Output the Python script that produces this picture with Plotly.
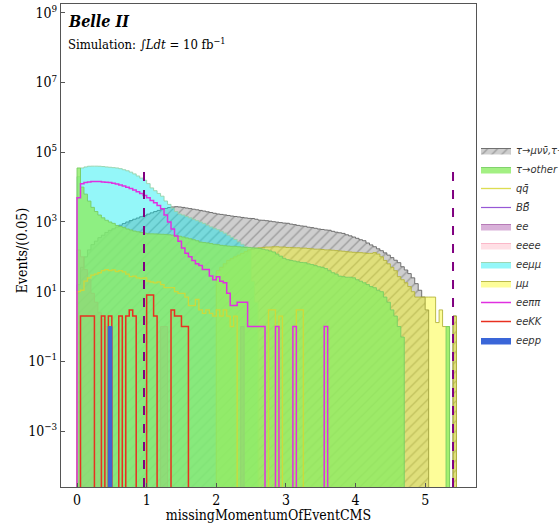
import numpy as np
import plotly.graph_objects as go

# ---------------- data (events per 0.05 bin) ----------------
bin_width = 0.05
n_bins = 110
edges = np.round(np.arange(n_bins + 1) * bin_width, 3)

tau_munu = [16, 50, 100, 158, 224, 282, 355, 417, 501, 575,
            640, 720, 810, 900, 1000, 1100, 1200, 1300, 1420, 1540,
            1680, 1830, 1990, 2150, 2300, 2450, 2600, 2700, 2750, 2700,
            2620, 2520, 2420, 2330, 2240, 2150, 2060, 1960, 1870, 1780,
            1700, 1650, 1600, 1540, 1480, 1440, 1400, 1350, 1310, 1270,
            1260, 1200, 1130, 1120, 1090, 1060, 1020, 990, 960, 930,
            920, 870, 840, 800, 770, 755, 710, 690, 660, 630,
            610, 590, 580, 540, 510, 490, 470, 430, 400, 370,
            340, 310, 290, 250, 220, 195, 170, 150, 130, 112,
            95, 80, 68, 52, 42, 33, 25, 17, 11, 7,
            3, 0, 0, 0, 0, 0, 0, 0, 2, 0]

tau_other = [35500, 10000, 6300, 3980, 2630, 2000, 1585, 1318, 1122, 1000,
             912, 794, 741, 692, 631, 589, 550, 525, 501, 479,
             460, 458, 455, 450, 445, 440, 430, 420, 405, 390,
             370, 350, 330, 310, 290, 265, 257, 251, 240, 229,
             224, 214, 209, 204, 200, 200, 195, 191, 186, 186,
             182, 178, 174, 166, 158, 148, 138, 120, 105, 91,
             83, 79, 76, 72, 69, 68, 63, 60, 56, 52,
             50, 46, 40, 35, 32, 28, 27, 26, 26, 25,
             22, 20, 18, 16, 14, 13, 11, 10, 7, 5,
             3, 2, 1, 0.5, 0, 0, 0, 0, 0, 0,
             0, 0, 0, 0, 0, 0, 1, 0, 0, 0]

qqbar = [10, 11, 20, 25, 30, 32, 35, 40, 43, 40,
         42, 38, 40, 37, 32, 27, 28, 25, 24, 25,
         20, 19, 18, 19, 16, 13, 13, 13, 10, 9,
         9, 7, 4, 4, 6, 3, 2.4, 3, 2.4, 2,
         3, 2, 3, 2, 1, 2, 0, 0, 0, 0,
         0, 0, 0, 0, 0, 3, 3, 0, 2, 0,
         0, 0, 0, 3, 3, 0, 0, 0, 0, 0] + [0] * 40

bbbar = [0] * 110

ee = [158, 100, 43, 22, 9, 5, 2.5, 1.6, 1, 0,
      0, 0, 0, 0, 0, 0, 0, 0, 0, 0,
      0, 0, 0, 0, 1, 1, 0, 0, 0, 0,
      0, 0, 0, 0, 0, 0, 0, 0, 0, 0,
      0, 0, 0, 0, 0, 0, 0, 1, 0, 0] + [0] * 60

eeee = [0] * 110

eemumu = [20000, 35500, 38000, 39800, 40000, 40000, 39800, 39000, 38000, 37200,
          36300, 35500, 33900, 31600, 29500, 26900, 24000, 20900, 18200, 15800,
          12600, 9500, 7900, 6600, 5500, 4000, 3200, 2500, 2000, 1700,
          1585, 1445, 1318, 1202, 1096, 1000, 912, 813, 724, 661,
          603, 537, 479, 417, 363, 316, 269, 229, 195, 158,
          20, 5] + [0] * 58

mumu = [0] * 40 + [40, 50, 63, 79, 89, 100, 112, 126, 141, 158,
                   166, 178, 182, 186, 191, 191, 195, 195, 191, 191,
                   186, 186, 182, 182, 178, 178, 174, 170, 166, 166,
                   162, 158, 158, 155, 151, 148, 145, 141, 138, 135,
                   132, 132, 129, 126, 126, 132, 120, 100, 79, 63,
                   50, 40, 27, 22, 18, 14, 10, 7, 7, 7,
                   7, 7, 7, 1.3, 3, 1, 1, 0, 2, 0]

eepipi = [5000, 12600, 13500, 14100, 14500, 14500, 14500, 14100, 13800, 13500,
          12900, 12300, 11500, 10700, 10000, 9100, 8300, 7400, 6600, 5750,
          5000, 4170, 3550, 2950, 2400, 1585, 1000, 631, 398, 282,
          178, 126, 100, 79, 63, 56, 43, 43, 28, 22,
          27, 20, 18, 9, 4, 4, 5, 5, 5, 1,
          1, 1, 1, 1, 0, 0, 0, 1, 0, 0,
          0, 0, 1, 0, 0, 0, 0, 0, 0, 0,
          0, 1] + [0] * 38

eekk = [0, 2, 2, 2, 2, 0, 0, 2, 0, 2,
        0, 0, 2, 0, 2, 3, 2, 0, 0, 0,
        8, 8, 2, 0, 0, 0, 0, 3, 2, 2,
        1, 1, 0, 0, 0, 0, 0, 0, 0, 0] + [0] * 70

eepp = [0] * 9 + [1] + [0] * 100

cut_values = [0.962, 5.40]

# ---------------- helpers ----------------
FLOOR = 1e-9


def step_xy(counts):
    c = [v if v > 0 else FLOOR for v in counts]
    x = [edges[0]] + list(edges[:-1]) + [edges[-1], edges[-1]]
    y = [FLOOR] + c + [c[-1], FLOOR]
    return x, y


fig = go.Figure()


def add_hist(counts, name, rank, line_color, fill_color=None, width=1.0,
             pattern=None):
    x, y = step_xy(counts)
    kw = dict(x=x, y=y, mode="lines", name=name, legendrank=rank,
              line=dict(color=line_color, width=width, shape="hv"))
    if fill_color is not None:
        kw["fill"] = "toself"
        kw["fillcolor"] = fill_color
    if pattern is not None:
        kw["fillpattern"] = pattern
    fig.add_trace(go.Scatter(**kw))


# draw order (bottom -> top)
add_hist(tau_munu, "<i>τ→μνν̄,τ→πν</i>", 1, "rgba(100,100,100,0.9)",
         "rgba(150,150,150,0.5)",
         pattern=dict(shape="/", fgcolor="rgba(90,90,90,0.9)",
                      bgcolor="rgba(165,165,165,0.55)", size=7, solidity=0.18))
add_hist(eemumu, "<i>eeμμ</i>", 7, "rgba(150,210,170,0.9)", "rgba(0,235,240,0.42)")
add_hist(mumu, "<i>μμ</i>", 8, "rgba(180,180,60,0.9)", "rgba(250,250,0,0.40)")
add_hist(ee, "<i>ee</i>", 5, "rgba(170,100,170,0.8)", "rgba(180,100,180,0.5)")
add_hist(eeee, "<i>eeee</i>", 6, "rgba(250,170,190,0.8)", "rgba(255,192,203,0.5)")
add_hist(bbbar, "<i>BB̄</i>", 4, "rgba(140,70,210,0.9)", width=1.2)
add_hist(tau_other, "<i>τ→other</i>", 2, "rgba(120,205,100,0.9)",
         "rgba(140,236,100,0.8)")
add_hist(qqbar, "<i>qq̄</i>", 3, "rgba(215,215,50,0.85)", width=1.3)
add_hist(eepipi, "<i>eeππ</i>", 9, "#e030e0", width=1.5)
add_hist(eekk, "<i>eeKK</i>", 10, "#e83020", width=1.5)
add_hist(eepp, "<i>eepp</i>", 11, "#3a66d8", "#3a66d8")

for cv in cut_values:
    fig.add_shape(type="line", xref="x", yref="y domain", x0=cv, x1=cv,
                  y0=0, y1=0.667, line=dict(color="#800080", width=2, dash="dash"),
                  layer="above")

serif = "DejaVu Serif Condensed, DejaVu Serif"

fig.add_annotation(text="<b><i>Belle II</i></b>", xref="paper", yref="paper",
                   x=0.012, y=0.988, xanchor="left", yanchor="top", showarrow=False,
                   font=dict(family=serif, size=16, color="black"))
fig.add_annotation(text="Simulation: ∫<i>Ldt</i> = 10 fb<sup>−1</sup>", xref="paper",
                   yref="paper", x=0.012, y=0.937, xanchor="left", yanchor="top",
                   showarrow=False, font=dict(family=serif, size=13, color="black"))
fig.add_annotation(text="Events/(0.05)", xref="paper", yref="paper",
                   x=-0.094, y=0.49, xanchor="center", yanchor="middle",
                   textangle=-90, showarrow=False,
                   font=dict(family=serif, size=14, color="black"))

ytv = [1e-3, 1e-1, 1e1, 1e3, 1e5, 1e7, 1e9]
ytt = ["10<sup>−3</sup>", "10<sup>−1</sup>", "10<sup>1</sup>", "10<sup>3</sup>",
       "10<sup>5</sup>", "10<sup>7</sup>", "10<sup>9</sup>"]

fig.update_layout(
    width=559, height=523,
    margin=dict(l=61, r=83, t=4, b=36, autoexpand=False),
    paper_bgcolor="white", plot_bgcolor="white",
    showlegend=True,
    legend=dict(x=1.0, xanchor="left", y=0.5, yanchor="middle",
                font=dict(family="DejaVu Sans", size=10, color="#333"),
                bgcolor="rgba(0,0,0,0)", borderwidth=0, itemwidth=30),
    xaxis=dict(range=[-0.23, 5.73], showline=True, mirror=True, linecolor="#555",
               linewidth=1, ticks="inside", ticklen=4, tickcolor="#555",
               tickvals=[0, 1, 2, 3, 4, 5], showgrid=False, zeroline=False,
               tickfont=dict(family=serif, size=14, color="black"),
               title=dict(text="missingMomentumOfEventCMS", standoff=0,
                          font=dict(family=serif, size=14, color="black"))),
    yaxis=dict(type="log", range=[-4.604, 9.255], showline=True, mirror=True,
               linecolor="#555", linewidth=1, ticks="inside", ticklen=4,
               tickcolor="#555", tickvals=ytv, ticktext=ytt, showgrid=False,
               zeroline=False, tickfont=dict(family=serif, size=14, color="black")),
)

fig.write_html("out.html")
